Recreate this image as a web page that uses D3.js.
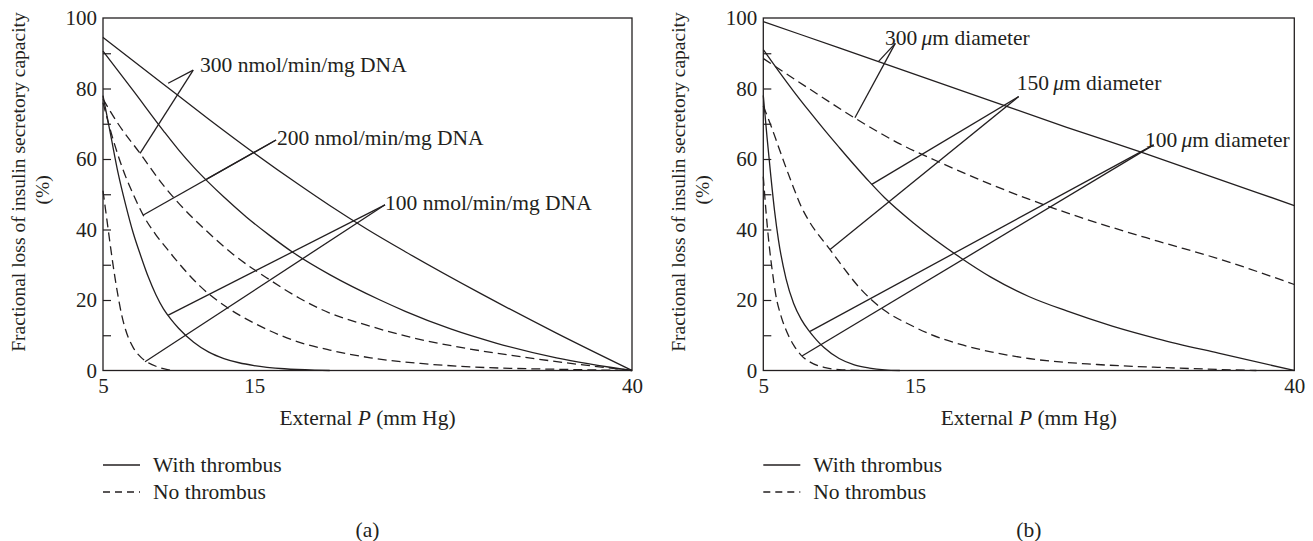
<!DOCTYPE html>
<html><head><meta charset="utf-8">
<script src="https://cdn.jsdelivr.net/npm/d3@7"></script>
<style>
body{margin:0;background:#fff;}
text{font-family:"Liberation Serif","Times New Roman",serif;fill:#231f20;}
</style></head>
<body><svg id="c" width="1313" height="541"></svg>
<script>
// ---------- data ----------
const xTicks = [5, 15, 40];
const yTickLabels = [0, 20, 40, 60, 80, 100];
const yMinorTicks = [10, 20, 30, 40, 50, 60, 70, 80, 90];

// Panel (a): insulin secretory rate
const a300With = [[5,94.5],[9,81.2],[12,71.3],[15,61.7],[18,52.6],[20,46.8],[22.5,40],[25,33.7],[30,21.8],[35,10.6],[40,0]];
const a200With = [[5,90.6],[7,79.4],[9,68],[10,62.6],[11,57.7],[12,53.3],[13,49.2],[14.5,43.5],[16,38.4],[17.6,33.4],[20,27.2],[23.33,20],[25,16.8],[28,11.8],[31,7.8],[35,3.6],[40,0]];
const a100With = [[5,78],[5.5,67],[6,56],[6.5,47],[7,39],[7.5,32.5],[8,26.5],[8.5,21.5],[9,17.5],[9.5,14.5],[10,12],[11,8],[12,5.2],[13,3.4],[14,2.2],[15,1.4],[17,0.5],[19,0.1],[20,0]];
const a300No = [[5,77],[6,70],[7.45,61.6],[9,52.5],[10,47.5],[12,39],[13.6,33],[16,25.8],[18,20.5],[20,16.3],[22.5,12.8],[25,9.8],[29,6.3],[32,4.3],[35.6,2.2],[40,0]];
const a200No = [[5,76],[5.5,68],[6,61],[6.5,55],[7,50],[7.67,44],[8.5,38.5],[9.2,34.7],[10,30.5],[11.4,24],[13,18.5],[15.2,13],[18,8],[20,5.8],[22.7,3.6],[26,2],[29,1.1],[35.6,0.3],[40,0]];
const a100No = [[5,51],[5.25,43],[5.5,35],[5.75,27.5],[6,21],[6.25,15.5],[6.5,11.5],[7,6.5],[7.5,3.8],[8,2.2],[8.5,1.2],[9,0.5],[9.6,0]];

// Panel (b): islet diameter
const b300With = [[5,99],[10,91.5],[15,84],[20,76.5],[25,69],[30,61.8],[35,54.3],[40,46.8]];
const b300No = [[5,88.5],[8,80],[11,71.7],[14,64.3],[16.4,59.5],[20,52.8],[22.5,48.6],[26,43.3],[31,36.7],[35,31.7],[40,24.4]];
const b150With = [[5,91],[6,85],[7,79.2],[8,73.7],[9,68.4],[10,63.3],[11,58.3],[12,53.5],[13,49],[15,41.5],[18,32],[20,26.5],[22.5,21],[25,16.9],[28,12.6],[31,9],[35,4.9],[40,0]];
const b150No = [[5,75],[5.5,69.5],[6,63.5],[6.5,57.5],[7,51.8],[7.5,46.5],[8,42.5],[9.4,34.3],[10,30.8],[11.4,23.2],[13,17],[14.7,12.9],[16,10.3],[18,7.4],[20,5.3],[22.5,3.4],[27,1.7],[31,0.9],[35,0.3],[37.5,0]];
const b100With = [[5,78],[5.25,66],[5.5,55],[5.75,45],[6,37],[6.5,26],[7,19],[7.5,14.5],[8,11.3],[8.5,8.7],[9,6.5],[10,3.4],[11,1.6],[12,0.7],[13,0.2],[14,0]];
const b100No = [[5,55],[5.2,44],[5.4,35],[5.6,28],[5.8,22],[6.2,15],[6.6,10.5],[7,7.2],[7.5,4.3],[8,2.6],[9,0.9],[10,0.25],[11.5,0]];

// annotation labels: text, text anchor point, leader apex, leader ends (data units)
const aLabels = ["300 nmol/min/mg DNA", "200 nmol/min/mg DNA", "100 nmol/min/mg DNA"];
const aLabelPos = [[11.42,84.7],[16.51,64.0],[23.66,45.5]];
const aApex = [[10.97,85.2],[16.45,65.4],[23.66,47]];
const aEnds = [[[9.31,81.5],[7.45,61.6]],[[11.86,54.3],[7.67,44.1]],[[9.32,15.7],[7.78,2.5]]];

const bLabels = ["300", "150", "100"];
const bLabelPos = [[13.02,92.3],[21.7,79.5],[30.16,63.3]];
const bApex = [[13.7,92.8],[21.83,77.7],[30.73,64]];
const bEnds = [[[12.6,87.7],[11.04,71.7]],[[12.15,52.8],[9.4,34.3]],[[8.08,11.1],[7.55,4.1]]];

const legendLabels = ["With thrombus", "No thrombus"];
const panelTags = ["(a)", "(b)"];

// ---------- drawing ----------
const svg = d3.select("#c");
const ink = "#231f20";
const FS = 21.5, FT = 21;

const panels = [
  {x0:103, x1:632, tag:panelTags[0],
   solid:[a300With,a200With,a100With], dashed:[a300No,a200No,a100No],
   labels:aLabels, labelPos:aLabelPos, apex:aApex, ends:aEnds, micro:false},
  {x0:763.3, x1:1294.3, tag:panelTags[1],
   solid:[b300With,b150With,b100With], dashed:[b300No,b150No,b100No],
   labels:bLabels, labelPos:bLabelPos, apex:bApex, ends:bEnds, micro:true}
];

panels.forEach(P => {
  const x = d3.scaleLinear().domain([5,40]).range([P.x0, P.x1]);
  const y = d3.scaleLinear().domain([0,100]).range([370.5, 18]);
  const g = svg.append("g");

  // inner minor ticks
  g.append("g").attr("transform",`translate(${P.x0},0)`)
    .call(d3.axisLeft(y).tickValues(yMinorTicks).tickSizeInner(-8).tickSizeOuter(0).tickFormat(""))
    .call(s => s.select(".domain").remove())
    .selectAll("line").attr("stroke", ink).attr("stroke-width",1.2);

  // y labels
  g.append("g").attr("transform",`translate(${P.x0},0)`)
    .call(d3.axisLeft(y).tickValues(yTickLabels).tickSize(0).tickPadding(6))
    .call(s => s.select(".domain").remove())
    .selectAll("text").attr("font-size",FT).attr("font-family","Liberation Serif").attr("fill",ink);

  // x labels
  g.append("g").attr("transform",`translate(0,${y(0)})`)
    .call(d3.axisBottom(x).tickValues(xTicks).tickSize(0).tickPadding(8).tickFormat(d3.format("d")))
    .call(s => s.select(".domain").remove())
    .selectAll("text").attr("font-size",FT).attr("font-family","Liberation Serif").attr("fill",ink);

  // frame
  g.append("rect").attr("x",P.x0).attr("y",y(100)).attr("width",P.x1-P.x0).attr("height",y(0)-y(100))
    .attr("fill","none").attr("stroke",ink).attr("stroke-width",1.3);

  const line = d3.line().x(d=>x(d[0])).y(d=>y(d[1])).curve(d3.curveMonotoneX);
  P.solid.forEach(s => g.append("path").attr("d",line(s)).attr("fill","none").attr("stroke",ink).attr("stroke-width",1.3));
  P.dashed.forEach(s => g.append("path").attr("d",line(s)).attr("fill","none").attr("stroke",ink).attr("stroke-width",1.3).attr("stroke-dasharray","9,5"));

  // annotations
  P.labels.forEach((lab,i) => {
    P.ends[i].forEach(e => g.append("line")
      .attr("x1",x(P.apex[i][0])).attr("y1",y(P.apex[i][1]))
      .attr("x2",x(e[0])).attr("y2",y(e[1]))
      .attr("stroke",ink).attr("stroke-width",1.3));
    const t = g.append("text").attr("x",x(P.labelPos[i][0])).attr("y",y(P.labelPos[i][1])).attr("font-size",FS);
    if (P.micro) {
      t.append("tspan").text(lab + "\u2009");
      t.append("tspan").attr("font-style","italic").text("\u03bc");
      t.append("tspan").text("m diameter");
    } else {
      t.text(lab);
    }
  });

  // axis titles
  const cx = (P.x0+P.x1)/2;
  const xt = g.append("text").attr("x",cx).attr("y",425).attr("text-anchor","middle").attr("font-size",FS);
  xt.append("tspan").text("External ");
  xt.append("tspan").attr("font-style","italic").text("P");
  xt.append("tspan").text(" (mm Hg)");

  g.append("text").attr("transform",`translate(${P.x0-85},182) rotate(-90)`)
    .attr("text-anchor","middle").attr("dy","0.35em").attr("font-size",19.5)
    .text("Fractional loss of insulin secretory capacity");
  g.append("text").attr("transform",`translate(${P.x0-61},190) rotate(-90)`)
    .attr("text-anchor","middle").attr("dy","0.35em").attr("font-size",19.5)
    .text("(%)");

  // legend
  const ly = [465, 492];
  g.append("line").attr("x1",P.x0).attr("x2",P.x0+37).attr("y1",ly[0]).attr("y2",ly[0]).attr("stroke",ink).attr("stroke-width",1.3);
  g.append("line").attr("x1",P.x0).attr("x2",P.x0+37).attr("y1",ly[1]).attr("y2",ly[1]).attr("stroke",ink).attr("stroke-width",1.3).attr("stroke-dasharray","7,5");
  legendLabels.forEach((l,i) => g.append("text").attr("x",P.x0+50).attr("y",ly[i]).attr("dy","0.33em").attr("font-size",FS).text(l));

  g.append("text").attr("x",cx).attr("y",530).attr("dy","0.33em").attr("text-anchor","middle").attr("font-size",FS).text(P.tag);
});
</script>
</body></html>
